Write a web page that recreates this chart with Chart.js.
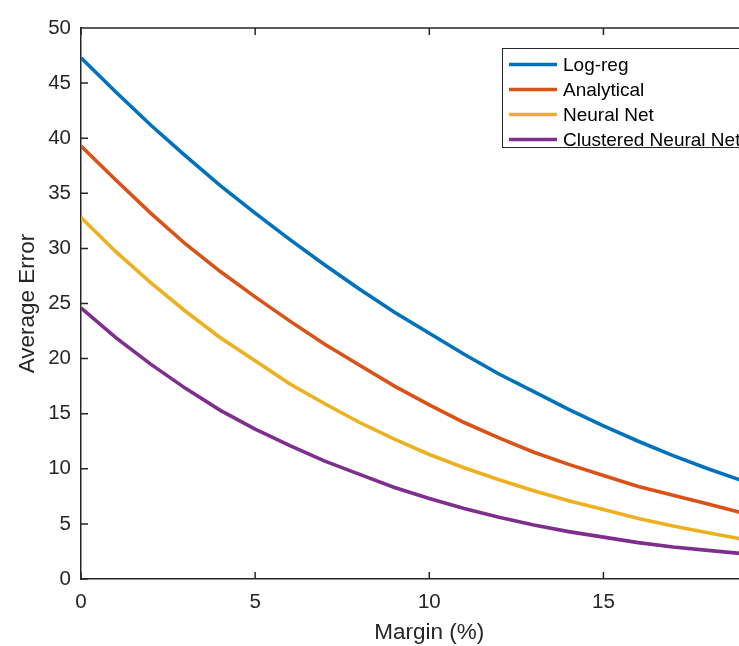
<!DOCTYPE html>
<html>
<head>
<meta charset="utf-8">
<script src="https://cdn.jsdelivr.net/npm/chart.js@4.4.1/dist/chart.umd.min.js"></script>
<style>
  html, body { margin: 0; padding: 0; background: #ffffff; overflow: hidden; }
  #wrap { width: 739px; height: 646px; overflow: hidden; position: relative; }
  canvas { display: block; }
</style>
</head>
<body>
<div id="wrap"><canvas id="c" width="800" height="646"></canvas></div>
<script>
// ---- data ----
const margins = [0, 1, 2, 3, 4, 5, 6, 7, 8, 9, 10, 11, 12, 13, 14, 15, 16, 17, 18, 19];
const seriesNames = ['Log-reg', 'Analytical', 'Neural Net', 'Clustered Neural Net'];
const logReg     = [47.3, 44.2, 41.2, 38.4, 35.7, 33.2, 30.8, 28.5, 26.3, 24.2, 22.3, 20.4, 18.6, 17.0, 15.4, 13.9, 12.5, 11.2, 10.0, 8.9];
const analytical = [39.3, 36.2, 33.2, 30.4, 27.9, 25.6, 23.4, 21.3, 19.4, 17.5, 15.8, 14.2, 12.8, 11.5, 10.4, 9.4, 8.4, 7.6, 6.8, 6.0];
const neuralNet  = [32.8, 29.7, 26.9, 24.3, 21.9, 19.8, 17.7, 15.9, 14.2, 12.7, 11.3, 10.1, 9.0, 8.0, 7.1, 6.3, 5.5, 4.8, 4.2, 3.6];
const clustered  = [24.6, 21.9, 19.5, 17.3, 15.3, 13.6, 12.1, 10.7, 9.5, 8.3, 7.3, 6.4, 5.6, 4.9, 4.3, 3.8, 3.3, 2.9, 2.6, 2.3];
const xTicks = [0, 5, 10, 15, 20];
const yTicks = [0, 5, 10, 15, 20, 25, 30, 35, 40, 45, 50];
const xTitle = 'Margin (%)';
const yTitle = 'Average Error';

const colors = ['#0072BD', '#D95319', '#EDB120', '#7E2F8E'];
const allSeries = [logReg, analytical, neuralNet, clustered];
const FONT = "'Liberation Sans', Arial, Helvetica, sans-serif";
const AX = '#262626';

const datasets = allSeries.map((vals, i) => ({
  label: seriesNames[i],
  data: margins.map((m, j) => ({ x: m, y: vals[j] })),
  borderColor: colors[i],
  backgroundColor: colors[i],
  borderWidth: 3.6,
  pointRadius: 0,
  tension: 0,
  fill: false
}));

// inward ticks + box + legend inside axes (MATLAB style)
const matlabPlugin = {
  id: 'matlab',
  afterDatasetsDraw(chart) {
    const ctx = chart.ctx;
    const a = chart.chartArea;
    const xs = chart.scales.x, ys = chart.scales.y;
    const tl = 7;
    ctx.save();
    ctx.strokeStyle = AX;
    ctx.lineWidth = 1.5;
    ctx.beginPath();
    ctx.moveTo(a.left, a.top); ctx.lineTo(a.right, a.top);
    ctx.moveTo(a.right, a.top); ctx.lineTo(a.right, a.bottom);
    xTicks.forEach(v => {
      const px = xs.getPixelForValue(v);
      ctx.moveTo(px, a.bottom); ctx.lineTo(px, a.bottom - tl);
      ctx.moveTo(px, a.top); ctx.lineTo(px, a.top + tl);
    });
    yTicks.forEach(v => {
      const py = ys.getPixelForValue(v);
      ctx.moveTo(a.left, py); ctx.lineTo(a.left + tl, py);
      ctx.moveTo(a.right, py); ctx.lineTo(a.right - tl, py);
    });
    ctx.stroke();

    // legend box
    const bx = 502, by = 48, bw = 268, bh = 99;
    ctx.fillStyle = '#ffffff';
    ctx.fillRect(bx, by, bw, bh);
    ctx.strokeStyle = '#262626';
    ctx.lineWidth = 1;
    ctx.strokeRect(bx + 0.5, by + 0.5, bw, bh);
    ctx.font = '19px ' + FONT;
    ctx.textBaseline = 'middle';
    ctx.textAlign = 'left';
    chart.data.datasets.forEach((ds, i) => {
      const y = 64.5 + i * 25;
      ctx.strokeStyle = ds.borderColor;
      ctx.lineWidth = 3.6;
      ctx.beginPath();
      ctx.moveTo(509, y); ctx.lineTo(557, y);
      ctx.stroke();
      ctx.fillStyle = '#000000';
      ctx.fillText(ds.label, 563, y + 1);
    });
    ctx.restore();
  }
};

new Chart(document.getElementById('c'), {
  type: 'line',
  data: { datasets },
  plugins: [matlabPlugin],
  options: {
    responsive: false,
    animation: false,
    layout: { padding: { left: 0, right: 21, top: 28, bottom: 0 } },
    plugins: { legend: { display: false }, tooltip: { enabled: false }, title: { display: false } },
    scales: {
      x: {
        type: 'linear',
        min: 0, max: 20,
        afterFit(s) { s.height = 67; },
        afterBuildTicks(s) { s.ticks = xTicks.map(v => ({ value: v })); },
        grid: { display: false, drawTicks: false, tickLength: 0 },
        border: { display: true, color: AX, width: 1.5 },
        ticks: { color: AX, padding: 11, maxRotation: 0, font: { family: FONT, size: 20.5 } },
        title: { display: true, text: xTitle, color: AX, padding: { top: 0, bottom: 0 }, font: { family: FONT, size: 22.5 } }
      },
      y: {
        type: 'linear',
        min: 0, max: 50,
        afterFit(s) { s.width = 81; },
        afterBuildTicks(s) { s.ticks = yTicks.map(v => ({ value: v })); },
        grid: { display: false, drawTicks: false, tickLength: 0 },
        border: { display: true, color: AX, width: 1.5 },
        ticks: { color: AX, padding: 10, font: { family: FONT, size: 20.5 } },
        title: { display: true, text: yTitle, color: AX, padding: { top: 14, bottom: 0 }, font: { family: FONT, size: 22.5 } }
      }
    }
  }
});
</script>
</body>
</html>
